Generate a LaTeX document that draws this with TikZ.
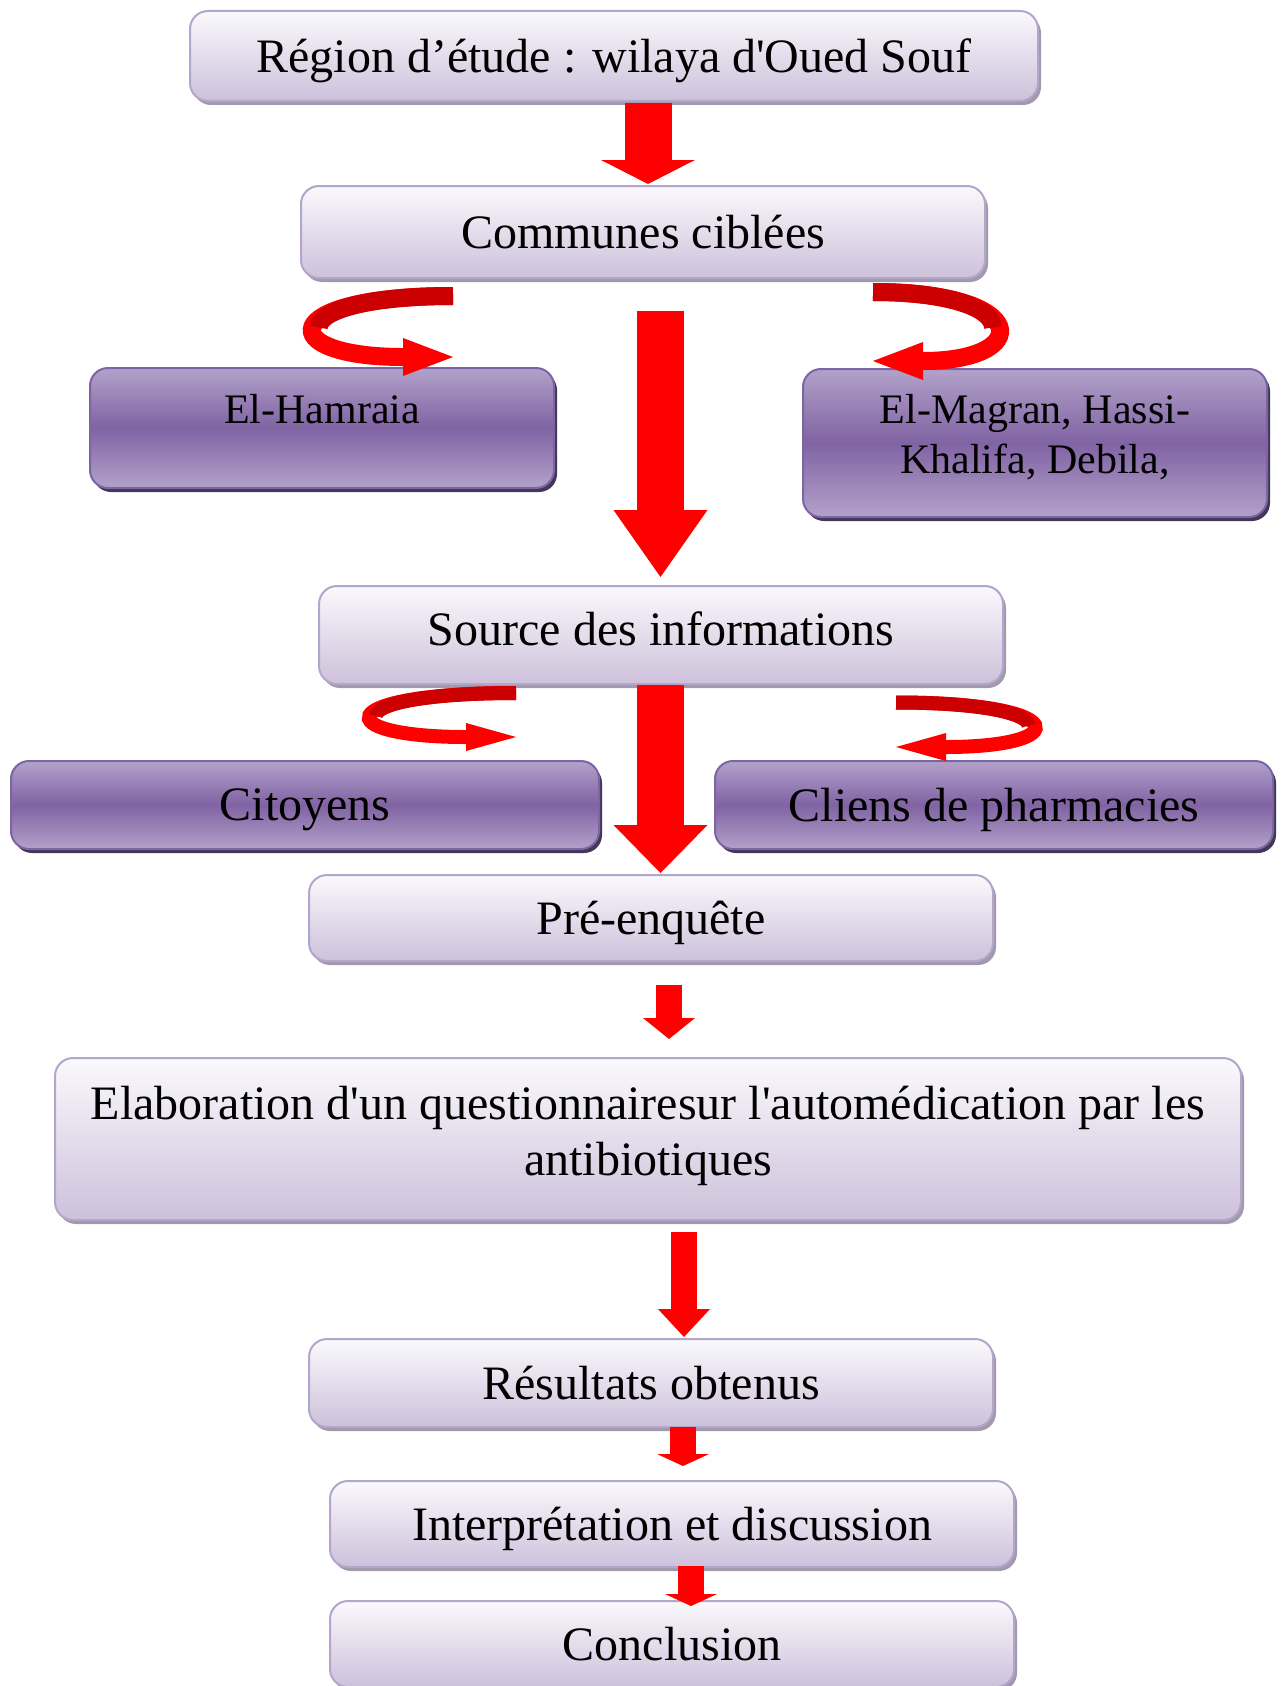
\documentclass[tikz,border=0pt]{standalone}
\usepackage{fontspec}
\setmainfont{Liberation Serif}[Ligatures=TeXOff]
\usepackage{tikz}
\usetikzlibrary{arrows.meta,shadows}

\definecolor{boxtop}{HTML}{FAF9FC}
\definecolor{boxbottom}{HTML}{CDC1DB}
\definecolor{boxline}{HTML}{B3A5CB}
\definecolor{boxshadow}{HTML}{A29AAC}
\definecolor{darkedge}{HTML}{B2A2CA}
\definecolor{darkmid}{HTML}{8063A3}
\definecolor{darkline}{HTML}{7D64A3}
\definecolor{darkshadow}{HTML}{433657}
\definecolor{curlred}{HTML}{CC0000}

\begin{document}
\begin{tikzpicture}[
        x=0.5pt, y=-0.5pt,
        lightbox/.style={rectangle,rounded corners=9pt,draw=boxline,line width=1pt,
            top color=boxtop,bottom color=boxbottom,
            drop shadow={shadow xshift=1.5pt,shadow yshift=-2pt,fill=boxshadow,opacity=1},
            inner sep=0pt,text depth=0pt,align=center,font=\fontsize{24}{28}\selectfont},
        darkbox/.style={rectangle,rounded corners=9pt,draw=darkline,line width=1pt,
            top color=darkedge,bottom color=darkedge,middle color=darkmid,
            drop shadow={shadow xshift=1.5pt,shadow yshift=-2pt,fill=darkshadow,opacity=1},
            inner sep=0pt,text depth=0pt,align=center,font=\fontsize{24}{28}\selectfont},
        bigarrow/.style={red,line width=23.5pt,-{Triangle[length=#1,width=47pt,line width=0pt]}},
        smallarrow/.style={red,line width=13pt,-{Triangle[length=#1,width=26pt,line width=0pt]}},
        bigcurl/.style={red,line width=9pt,-{Triangle[length=25pt,width=19pt,line width=0pt]}},
        smallcurl/.style={red,line width=7pt,-{Triangle[length=25pt,width=14pt,line width=0pt]}},
        curlback/.style={curlred,line width=#1}
    ]
        \useasboundingbox (0,0) rectangle (1285,1686);

        % Boxes
        \node[lightbox,minimum width=424pt,minimum height=45pt] (reg) at (614,56) {Région d’étude : wilaya d'Oued Souf};
        \node[lightbox,minimum width=342pt,minimum height=46pt] (com) at (643,232) {Communes ciblées};
        \node[darkbox,minimum width=232pt,minimum height=60pt,text depth=19pt,font=\fontsize{21}{25}\selectfont] (ham) at (322,428) {El-Hamraia};
        \node[darkbox,minimum width=232pt,minimum height=74pt,text depth=9.5pt,font=\fontsize{21}{25}\selectfont] (mag) at (1035,443) {El-Magran, Hassi-\\Khalifa, Debila,};
        \node[lightbox,minimum width=342pt,minimum height=49pt,text depth=6pt] (src) at (661,635) {Source des informations};
        \node[darkbox,minimum width=294pt,minimum height=44pt] (cit) at (305,805) {Citoyens};
        \node[darkbox,minimum width=279pt,minimum height=44pt] (cli) at (994,805) {Cliens de pharmacies};
        \node[lightbox,minimum width=342pt,minimum height=43pt] (pre) at (651,918) {Pré-enquête};
        \node[lightbox,minimum width=593pt,minimum height=81pt,text depth=8.4pt] (ela) at (648,1139) {Elaboration d'un questionnairesur l'automédication par les\\antibiotiques};
        \node[lightbox,minimum width=342pt,minimum height=44pt] (res) at (651,1383) {Résultats obtenus};
        \node[lightbox,minimum width=342pt,minimum height=43pt] (int) at (672,1524) {Interprétation et discussion};
        \node[lightbox,minimum width=342pt,minimum height=43pt] (con) at (672,1644) {Conclusion};

        % Straight arrows
        \draw[bigarrow=12pt] ([shift={(34,1)}]reg.south) -- ([shift={(5,-1)}]com.north);
        \draw[bigarrow=33.5pt] ([shift={(17.5,32)}]com.south) -- ([shift={(-0.5,-8)}]src.north);
        \draw[bigarrow=24pt] ([shift={(-0.5,0)}]src.south) -- ([shift={(9.5,-1)}]pre.north);
        \draw[smallarrow=10.5pt] ([shift={(18,23)}]pre.south) -- ([shift={(21,-18)}]ela.north);
        \draw[smallarrow=14pt] ([shift={(36,11)}]ela.south) -- ([shift={(33,-1)}]res.north);
        \draw[smallarrow=6pt] ([shift={(32,-1)}]res.south) -- ([shift={(11,-14)}]int.north);
        \draw[smallarrow=6pt] ([shift={(19,-2)}]int.south) -- ([shift={(19,6)}]con.north);

        % Curled arrows
        \draw[bigcurl] ([shift={(-190,17)}]com.south) .. controls +(-179,0) and +(-179,0) .. ([shift={(131,-10)}]ham.north);
        \draw[curlback=9pt] ([shift={(-190,17)}]com.south) .. controls +(-89.5,0) and +(0,-15.75) .. +(-134.25,31.5);
        \draw[bigcurl] ([shift={(230,13)}]com.south) .. controls +(160,0) and +(160,0) .. ([shift={(-162,-7)}]mag.north);
        \draw[curlback=9pt] ([shift={(230,13)}]com.south) .. controls +(80,0) and +(0,-17.75) .. +(120,35.5);
        \draw[smallcurl] ([shift={(-145,8)}]src.south) .. controls +(-187,0) and +(-187,0) .. ([shift={(211,-23)}]cit.north);
        \draw[curlback=7pt] ([shift={(-145,8)}]src.south) .. controls +(-93.5,0) and +(0,-11.5) .. +(-140.25,23);
        \draw[smallcurl] ([shift={(235,17.5)}]src.south) .. controls +(177,0) and +(177,0) .. ([shift={(-98,-13)}]cli.north);
        \draw[curlback=7pt] ([shift={(235,17.5)}]src.south) .. controls +(88.5,0) and +(0,-11.625) .. +(132.75,23.25);
    \end{tikzpicture}
\end{document}
